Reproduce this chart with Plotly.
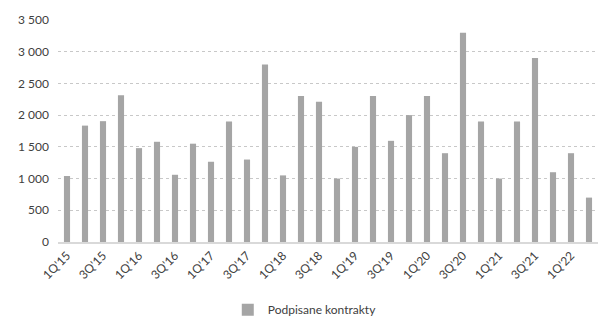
import plotly.graph_objects as go

quarters = [
    "1Q'15", "2Q'15", "3Q'15", "4Q'15",
    "1Q'16", "2Q'16", "3Q'16", "4Q'16",
    "1Q'17", "2Q'17", "3Q'17", "4Q'17",
    "1Q'18", "2Q'18", "3Q'18", "4Q'18",
    "1Q'19", "2Q'19", "3Q'19", "4Q'19",
    "1Q'20", "2Q'20", "3Q'20", "4Q'20",
    "1Q'21", "2Q'21", "3Q'21", "4Q'21",
    "1Q'22", "2Q'22",
]
contracts = [
    1040, 1835, 1905, 2315,
    1480, 1580, 1060, 1550,
    1265, 1900, 1300, 2800,
    1050, 2300, 2210, 1000,
    1500, 2300, 1595, 2000,
    2300, 1400, 3300, 1900,
    1000, 1900, 2900, 1100,
    1400, 700,
]
y_ticks = [0, 500, 1000, 1500, 2000, 2500, 3000, 3500]
y_labels = ["0", "500", "1 000", "1 500", "2 000", "2 500", "3 000", "3 500"]

font_family = "Lato, 'Open Sans', sans-serif"
text_color = "#404040"

fig = go.Figure(
    go.Bar(
        x=quarters,
        y=contracts,
        name="Podpisane kontrakty",
        marker=dict(color="#A5A5A5", line=dict(width=0)),
        width=0.34,
    )
)

fig.update_layout(
    width=599,
    height=320,
    margin=dict(l=58, r=1, t=20, b=78, autoexpand=False),
    paper_bgcolor="white",
    plot_bgcolor="white",
    font=dict(family=font_family, size=12, color=text_color),
    showlegend=True,
    legend=dict(
        orientation="h",
        x=0.457, xanchor="center",
        y=-0.305, yanchor="middle",
        font=dict(size=12, color=text_color),
        itemwidth=30,
    ),
)

fig.update_xaxes(
    type="category",
    automargin=False,
    tickmode="array",
    tickvals=quarters[::2],
    ticktext=quarters[::2],
    tickangle=-45,
    showgrid=False,
    showline=True,
    linecolor="#D9D9D9",
    linewidth=2,
    ticks="",
    range=[-0.5, len(quarters) - 0.5],
    tickfont=dict(size=12, color=text_color),
)

fig.update_yaxes(
    automargin=False,
    range=[0, 3500],
    tickmode="array",
    tickvals=y_ticks,
    ticktext=y_labels,
    showgrid=True,
    gridcolor="#C8C8C8",
    griddash="dot",
    gridwidth=1,
    zeroline=False,
    showline=False,
    ticks="",
    ticklabelstandoff=8,
    tickfont=dict(size=12, color=text_color),
)

fig.write_html("out.html")
